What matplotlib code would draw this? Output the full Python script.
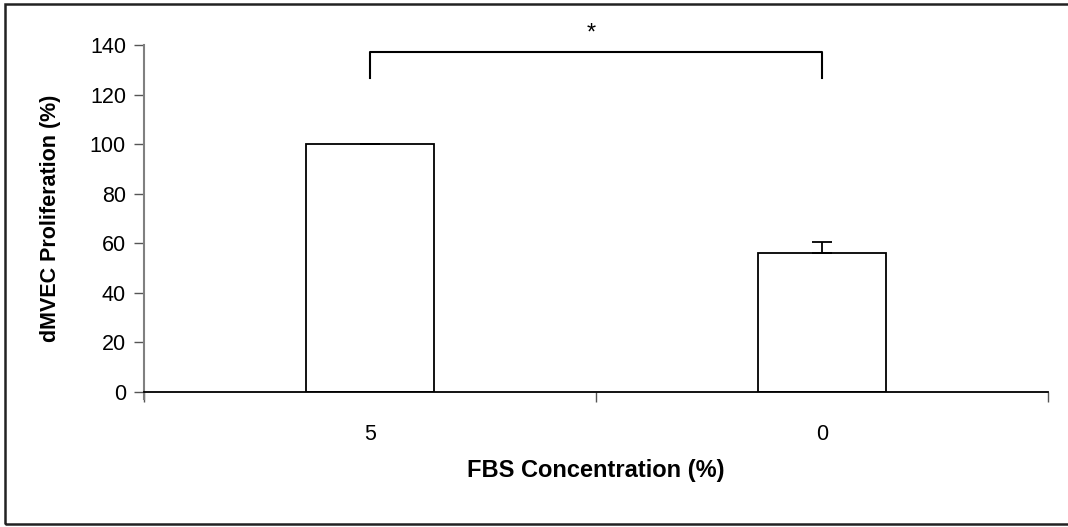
import matplotlib
matplotlib.use('Agg')
import matplotlib.pyplot as plt
from matplotlib.patches import Rectangle
import numpy as np

plt.rcParams['font.family'] = ['Liberation Sans', 'DejaVu Sans']

# data
categories = ['5', '0']
proliferation = [100.0, 56.0]
err_upper = [0.0, 4.7]
bracket_low, bracket_high = 126.5, 137.0
star_y = 144.5

fig = plt.figure(figsize=(10.68, 5.27), dpi=100)
ax = fig.add_axes([0.1348, 0.2562, 0.8465, 0.6584])

x = np.arange(len(categories))
ax.bar(x, proliferation, width=0.285, color='white', edgecolor='black',
       linewidth=1.3, zorder=2)
ax.errorbar(x, proliferation, yerr=[np.zeros(len(x)), err_upper], fmt='none',
            ecolor='black', elinewidth=1.3, capsize=7, capthick=1.3, zorder=3)

# significance bracket
ax.plot([x[0], x[0], x[1], x[1]],
        [bracket_low, bracket_high, bracket_high, bracket_low],
        color='black', linewidth=1.5, clip_on=False)
ax.text((x[0] + x[1]) / 2 - 0.01, star_y, '*', ha='center', va='center',
        fontsize=17)

ax.set_xlim(-0.5, 1.5)
ax.set_ylim(0, 140)
ax.set_yticks(np.arange(0, 141, 20))
ax.set_xticks([-0.5, 0.5, 1.5], minor=False)
ax.set_xticklabels([])
ax.set_xticks(x, minor=True)
ax.set_xticklabels(categories, minor=True)
ax.tick_params(axis='x', which='major', direction='out', length=7,
               width=1, color='#555555')
ax.tick_params(axis='x', which='minor', length=0, pad=23, labelsize=15.5)
ax.tick_params(axis='y', direction='out', length=7, width=1,
               color='#555555', labelsize=15.5, pad=6)

for side in ['top', 'right']:
    ax.spines[side].set_visible(False)
ax.spines['left'].set_color('#808080')
ax.spines['left'].set_linewidth(1.5)
ax.spines['left'].set_bounds(-3, 140)
ax.spines['bottom'].set_color('black')
ax.spines['bottom'].set_linewidth(1.3)

ax.set_xlabel('FBS Concentration (%)', fontsize=17, fontweight='bold',
              labelpad=10)
ax.set_ylabel('dMVEC Proliferation (%)', fontsize=15.5, fontweight='bold',
              labelpad=21)

# outer frame of the figure
fig.patches.append(Rectangle((5 / 1068, 3 / 527), 1.2, 520 / 527,
                             transform=fig.transFigure, fill=False,
                             edgecolor='#222222', linewidth=1.8))

fig.savefig('out.png', dpi=100)
